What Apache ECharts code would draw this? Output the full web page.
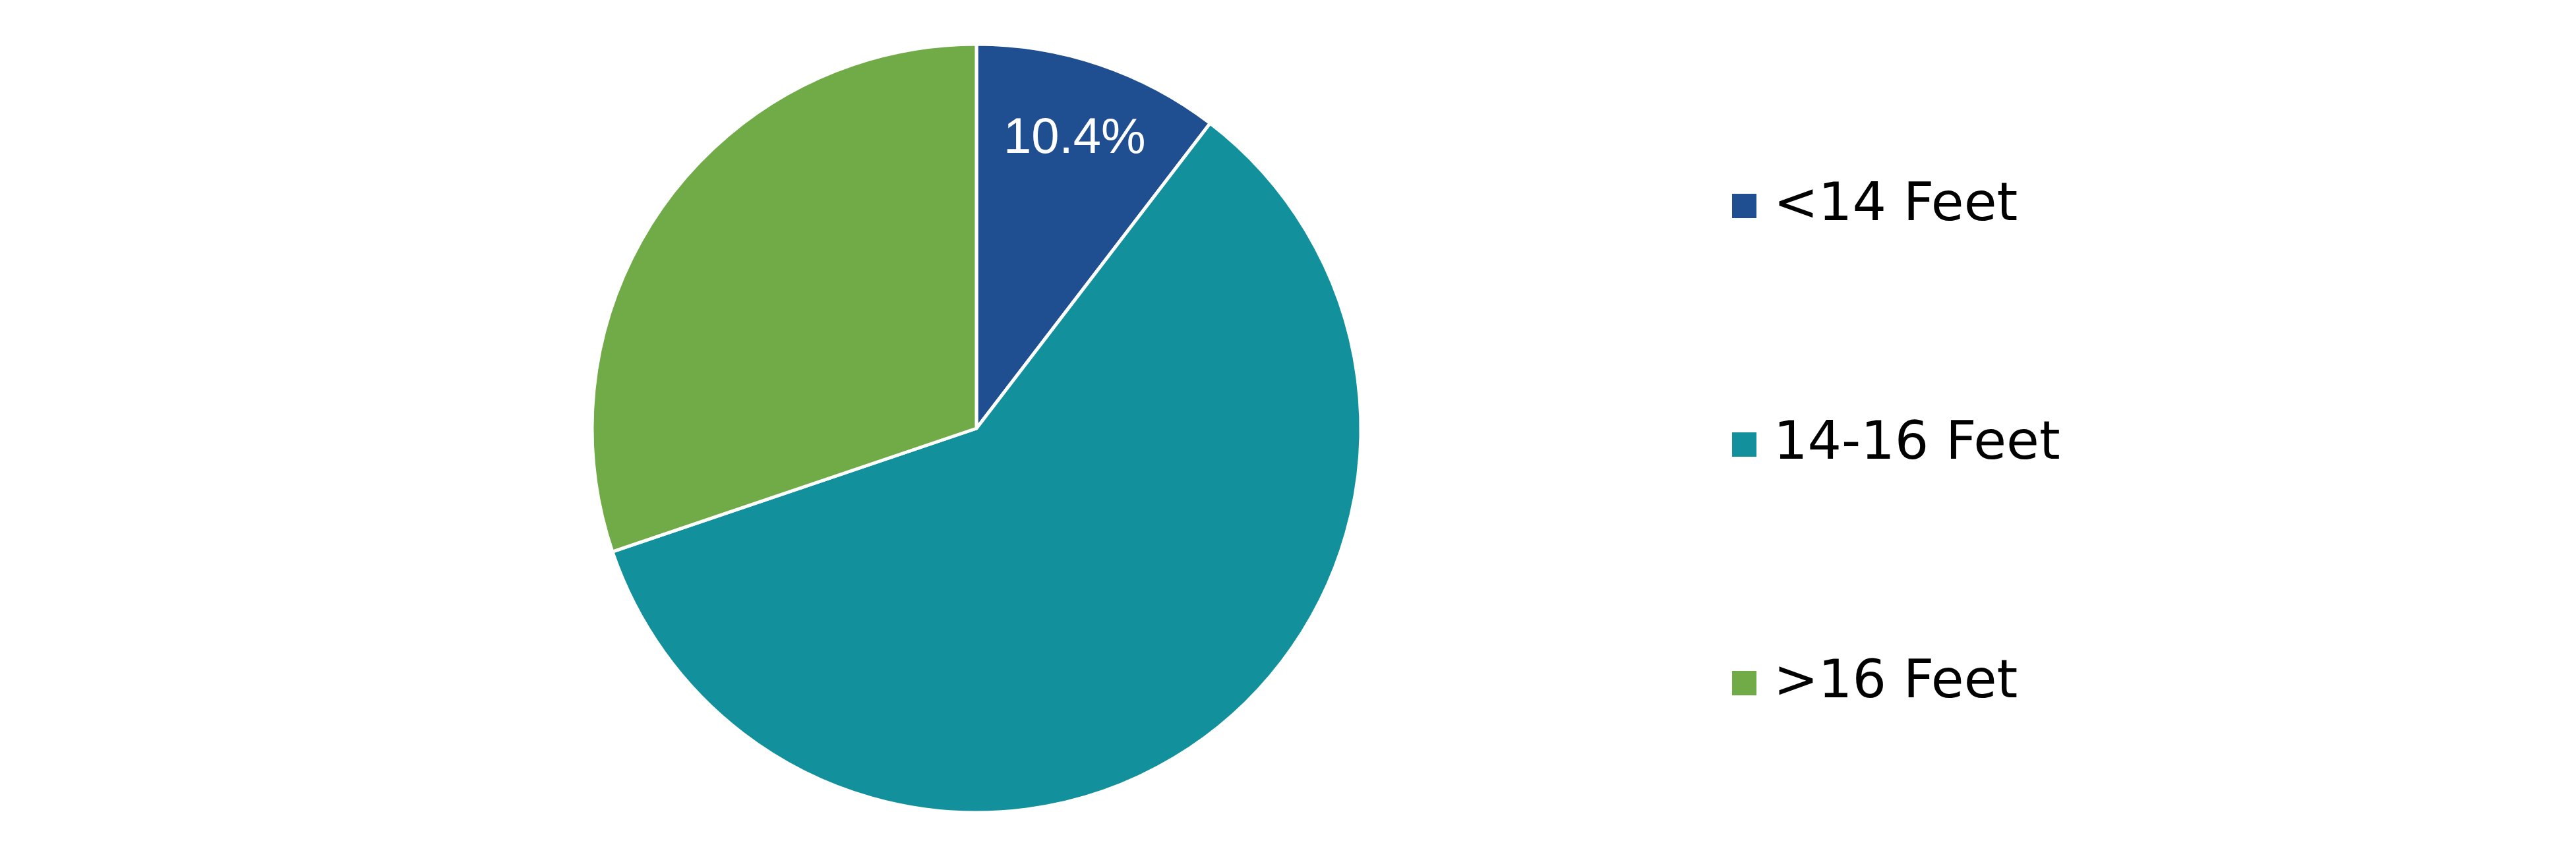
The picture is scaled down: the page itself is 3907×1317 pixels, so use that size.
<!DOCTYPE html>
<html>
<head>
<meta charset="utf-8">
<script src="https://cdn.jsdelivr.net/npm/echarts@6/dist/echarts.min.js"></script>
<style>
html,body{margin:0;padding:0;background:#fff;}
#chart{width:3907px;height:1317px;}
</style>
</head>
<body>
<div id="chart"></div>
<script>
const categories = ['<14 Feet', '14-16 Feet', '>16 Feet'];
const values = [10.4, 59.4, 30.2];
const colors = ['#1F4E91', '#12919D', '#70AB48'];
const labelShown = [true, false, false];

const chart = echarts.init(document.getElementById('chart'));
const labelStyle = {
  position: 'inside',
  formatter: (p) => p.value.toFixed(1) + '%',
  color: '#ffffff',
  fontFamily: 'Liberation Sans',
  fontSize: 76
};
const mainData = categories.map((c, i) => ({
  name: c, value: values[i], itemStyle: { color: colors[i] }
}));
const labelData = categories.map((c, i) => ({
  name: c, value: values[i],
  itemStyle: { color: 'rgba(0,0,0,0)', borderWidth: 0 },
  label: Object.assign({}, labelStyle, { show: labelShown[i] })
}));

chart.setOption({
  animation: false,
  backgroundColor: '#ffffff',
  legend: {
    orient: 'vertical',
    left: 2625,
    top: 272,
    padding: 0,
    itemWidth: 39,
    itemHeight: 39,
    itemGap: 281,
    icon: 'rect',
    data: categories,
    textStyle: {
      fontFamily: 'DejaVu Sans',
      fontSize: 81,
      lineHeight: 80,
      color: '#000000',
      padding: [0, 0, 0, 20]
    }
  },
  series: [
    {
      type: 'pie',
      center: [1481, 650],
      radius: [0, 583],
      startAngle: 90,
      clockwise: true,
      silent: true,
      label: { show: false },
      labelLine: { show: false },
      itemStyle: { borderColor: '#ffffff', borderWidth: 5 },
      data: mainData
    },
    {
      type: 'pie',
      center: [1481, 650],
      radius: [340, 581],
      startAngle: 90,
      clockwise: true,
      silent: true,
      legendHoverLink: false,
      label: labelStyle,
      labelLine: { show: false },
      data: labelData
    }
  ]
});
</script>
</body>
</html>
